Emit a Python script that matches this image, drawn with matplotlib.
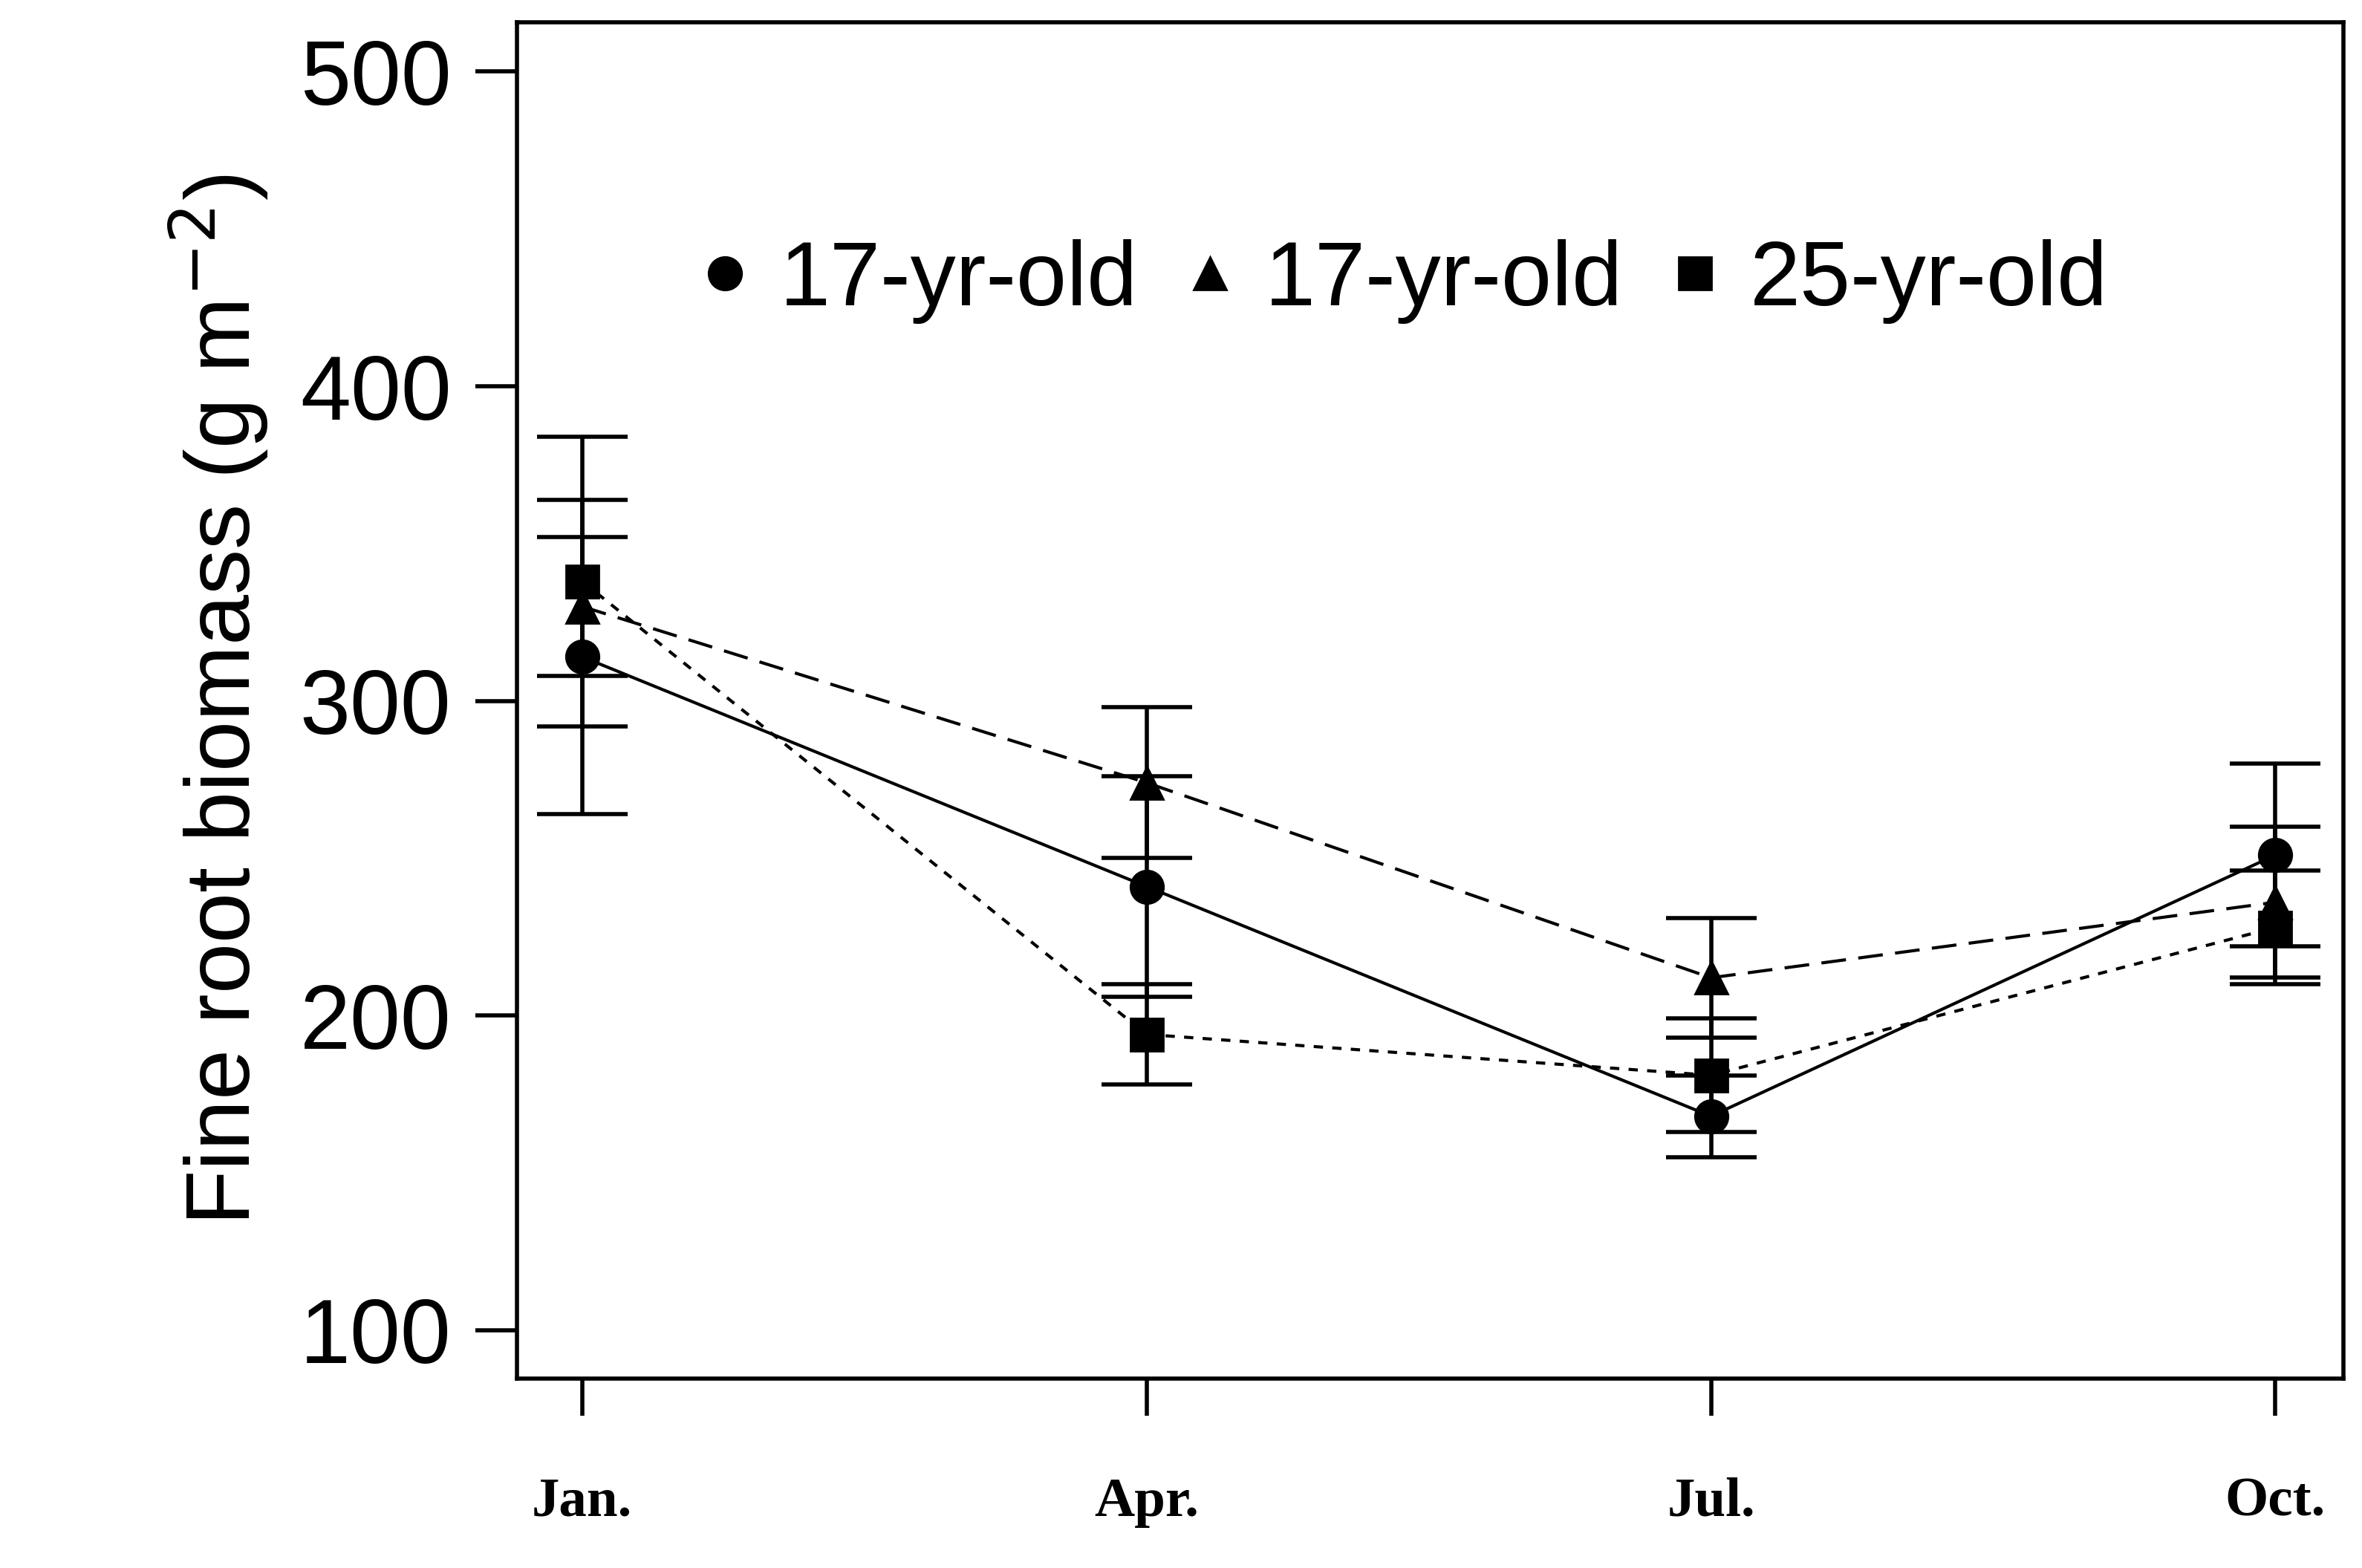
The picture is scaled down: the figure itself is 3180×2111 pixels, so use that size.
import matplotlib
matplotlib.use("Agg")
import matplotlib.pyplot as plt

months = ["Jan.", "Apr.", "Jul.", "Oct."]
circle_mean = [314, 241, 168, 251]
circle_err = [50, 35, 13, 29]
tri_mean = [330, 274, 212, 236]
tri_err = [22, 24, 19, 24]
sq_mean = [338, 194, 181, 228]
sq_err = [46, 16, 18, 18]
legend_labels = ["17-yr-old", "17-yr-old", "25-yr-old"]
yticks = [100, 200, 300, 400, 500]

fig = plt.figure(figsize=(15.9, 10.555), dpi=200)
ax = fig.add_axes([0.219, 0.121, 0.773, 0.865])
x = list(range(len(months)))
series = [(circle_mean, circle_err, "o", "-"), (tri_mean, tri_err, "^", (0, (8, 4))), (sq_mean, sq_err, "s", (0, (3, 3)))]
handles = []
for (m, e, mk, ls), lab in zip(series, legend_labels):
    ax.plot(x, m, color="black", linestyle=ls, linewidth=1.5)
    ax.errorbar(x, m, yerr=e, fmt="none", ecolor="black", elinewidth=2, capsize=22, capthick=2)
    h, = ax.plot(x, m, marker=mk, markersize=16, color="black", linestyle="none", label=lab)
    handles.append(h)
ax.set_xlim(-0.115, 3.12)
ax.set_ylim(84.7, 515.8)
ax.set_yticks(yticks)
ax.set_yticklabels([str(t) for t in yticks], fontsize=44, family="Liberation Sans")
ax.set_xticks(x)
ax.set_xticklabels(months, fontsize=27, family="Liberation Serif", fontweight="bold")
ax.tick_params(axis="y", length=20, width=2, pad=12)
ax.tick_params(axis="x", length=18, width=2, pad=30)
for s in ax.spines.values():
    s.set_linewidth(2)
ax.set_ylabel(r"Fine root biomass (g m$^{-2}$)", fontsize=44, family="Liberation Sans", labelpad=14)
ax.legend(handles=handles, loc="upper center", bbox_to_anchor=(0.48, 0.9), ncol=3, frameon=False,
          prop={"family": "Liberation Sans", "size": 44}, handletextpad=0.1, columnspacing=0.3, handlelength=1)
fig.savefig("out.png", dpi=200)
